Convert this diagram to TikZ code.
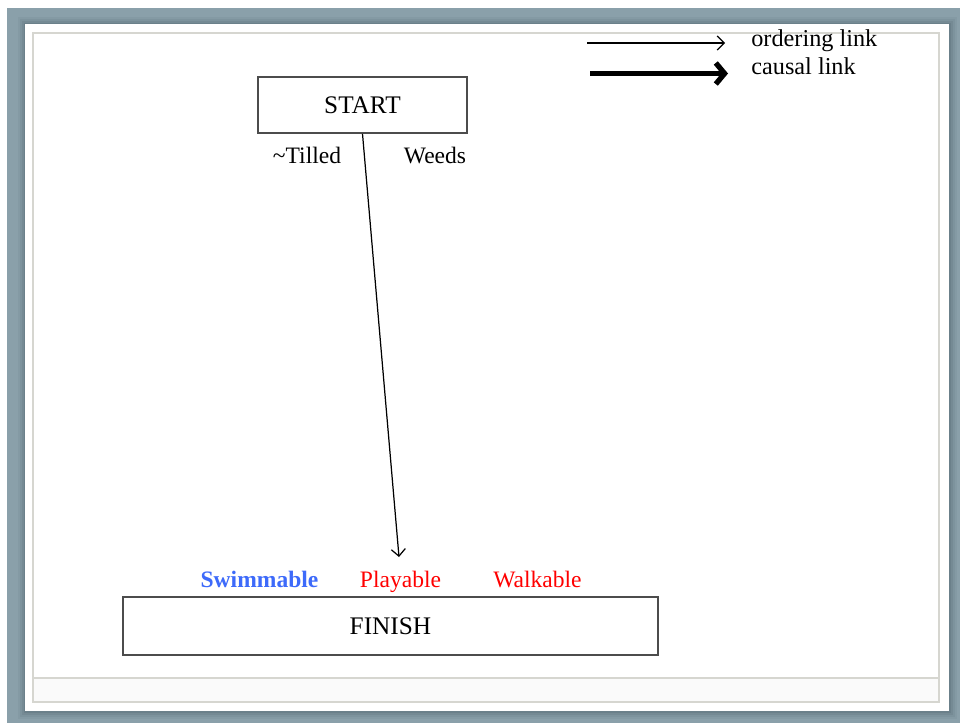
\documentclass[tikz,border=0pt]{standalone}
\usepackage{fontspec}
\setmainfont{Liberation Serif}
\usetikzlibrary{arrows.meta,positioning}
\definecolor{slate}{RGB}{138,160,170}
\definecolor{slatedark}{RGB}{70,90,100}
\definecolor{framegray}{RGB}{214,214,208}
\definecolor{swimblue}{RGB}{61,106,250}
\newcommand{\condsize}{\fontsize{13.4}{16}\selectfont}
\newcommand{\boxsize}{\fontsize{14.4}{17}\selectfont}
\newcommand{\legendsize}{\fontsize{13.8}{16}\selectfont}

\begin{document}
\begin{tikzpicture}[x=0.02cm, y=-0.02cm,
    stepbox/.style={draw=black!70, line width=0.9pt, fill=white, inner sep=0pt, font=\boxsize},
    cond/.style={font=\condsize, inner sep=0pt, anchor=base},
    legendtext/.style={font=\legendsize, inner sep=0pt, anchor=base west},
    ordering/.style={line width=0.7pt, -{Straight Barb[length=4pt,width=8pt]}},
    causal/.style={line width=3pt, -{Straight Barb[length=5pt,width=12pt]}}]
        \useasboundingbox (0,0) rectangle (960,723);
        \fill[white] (0,0) rectangle (960,723);
        \fill[slate] (7,8) rectangle (960,723);
        \foreach \d/\o in {7/0.08,5/0.10,3/0.14,1/0.2}
            \fill[slatedark, opacity=\o] (25-\d,24-\d) rectangle (949+\d+1,711+\d+1);
        \fill[white] (25,24) rectangle (949,711);
        \fill[black!2] (33,678) rectangle (939,702);
        \draw[framegray, line width=1pt] (33,33) rectangle (939,702) (33,678) -- (939,678);

        \node[stepbox, minimum width=4.18cm, minimum height=1.12cm] (start) at (362.5,105) {START};
        \node[stepbox, minimum width=10.7cm, minimum height=1.16cm] (finish) at (390.5,626) {\raisebox{-1.5pt}{FINISH}};

        \node[cond] (tilled) at (307,163) {\textasciitilde Tilled};
        \node[cond] (weeds) at (435,163) {Weeds};
        \node[cond, swimblue, font=\condsize\bfseries] (swimmable) at (259.5,587) {Swimmable};
        \node[cond, red] (playable) at (400.5,587) {Playable};
        \node[cond, red] (walkable) at (537.5,587) {Walkable};

        \coordinate (playtip) at (399,557);
        \draw[ordering] (start.south) -- (playtip);

        \node[legendtext] (ordtext) at (751,47) {ordering link};
        \node[legendtext] (caustext) at (751,75) {causal link};
        \coordinate (ordtail) at (587,43);
        \coordinate (ordtip) at (725,43);
        \coordinate (caustail) at (590,73.5);
        \coordinate (caustip) at (728,73.5);
        \draw[ordering] (ordtail) -- (ordtip);
        \draw[causal] (caustail) -- (caustip);
    \end{tikzpicture}
\end{document}
